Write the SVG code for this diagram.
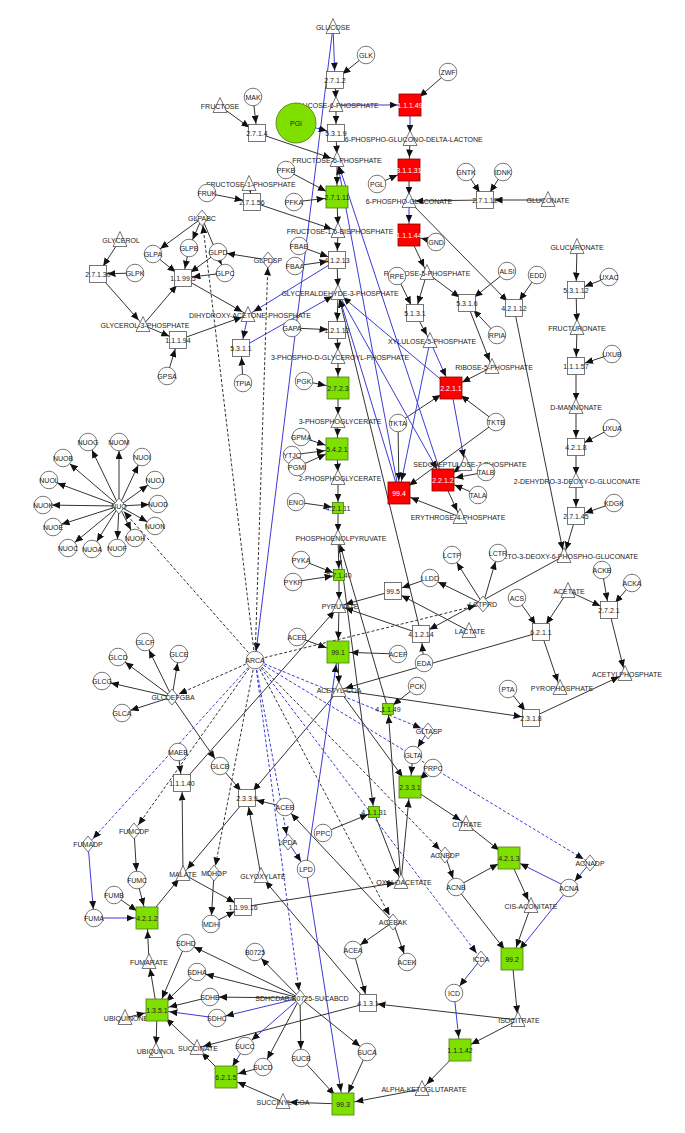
<svg xmlns="http://www.w3.org/2000/svg" width="685" height="1133" viewBox="0 0 685 1133">
<style>
text{font-family:"Liberation Sans",Arial,sans-serif;font-size:7px;fill:#222;text-anchor:middle}
.w{fill:#fff;stroke:#555;stroke-width:0.8}
.g{fill:#7fe000;stroke:#4a7d10;stroke-width:0.8}
.r{fill:#ff0000;stroke:#8a0000;stroke-width:0.8}
text.wt{fill:#fff}
#connectors line{stroke-width:1;fill:none}
.k{stroke:#333}
.b{stroke:#3b3bd6}
.kd{stroke:#333;stroke-dasharray:3 2}
.bd{stroke:#3b3bd6;stroke-dasharray:3 2}
</style>
<defs>
<path id="T" d="M0,-8.5 L7,6.5 L-7,6.5 Z"/>
<rect id="S" x="-8.5" y="-8.5" width="17" height="17"/>
<rect id="B" x="-11" y="-11" width="22" height="22"/>
<rect id="M" x="-5.5" y="-5.5" width="11" height="11"/>
<path id="D" d="M0,-8 L6.5,0 L0,8 L-6.5,0 Z"/>
<marker id="aC" markerUnits="userSpaceOnUse" markerWidth="8" markerHeight="7" refX="17" refY="3.5" orient="auto"><path d="M0,0 L8,3.5 L0,7 Z" fill="#111"/></marker>
<marker id="aS" markerUnits="userSpaceOnUse" markerWidth="8" markerHeight="7" refX="17.5" refY="3.5" orient="auto"><path d="M0,0 L8,3.5 L0,7 Z" fill="#111"/></marker>
<marker id="aB" markerUnits="userSpaceOnUse" markerWidth="8" markerHeight="7" refX="20.5" refY="3.5" orient="auto"><path d="M0,0 L8,3.5 L0,7 Z" fill="#111"/></marker>
<marker id="aM" markerUnits="userSpaceOnUse" markerWidth="8" markerHeight="7" refX="14.5" refY="3.5" orient="auto"><path d="M0,0 L8,3.5 L0,7 Z" fill="#111"/></marker>
<marker id="aT" markerUnits="userSpaceOnUse" markerWidth="8" markerHeight="7" refX="14.5" refY="3.5" orient="auto"><path d="M0,0 L8,3.5 L0,7 Z" fill="#111"/></marker>
<marker id="aD" markerUnits="userSpaceOnUse" markerWidth="8" markerHeight="7" refX="15.5" refY="3.5" orient="auto"><path d="M0,0 L8,3.5 L0,7 Z" fill="#111"/></marker>
</defs>
<rect width="685" height="1133" fill="#fff"/>
<g id="connectors">
<line class="b" x1="333" y1="27" x2="335" y2="80" marker-end="url(#aS)"/>
<line class="b" x1="333" y1="27" x2="255" y2="660" marker-end="url(#aC)"/>
<line class="k" x1="366" y1="55" x2="335" y2="80" marker-end="url(#aS)"/>
<line class="k" x1="335" y1="80" x2="336" y2="105" marker-end="url(#aT)"/>
<line class="k" x1="336" y1="105" x2="336" y2="133" marker-end="url(#aS)"/>
<line class="b" x1="296" y1="123" x2="336" y2="133" marker-end="url(#aS)"/>
<line class="k" x1="336" y1="133" x2="337" y2="160" marker-end="url(#aT)"/>
<line class="b" x1="336" y1="105" x2="410" y2="105" marker-end="url(#aB)"/>
<line class="k" x1="448" y1="72" x2="410" y2="105" marker-end="url(#aB)"/>
<line class="b" x1="410" y1="105" x2="410" y2="139" marker-end="url(#aT)"/>
<line class="k" x1="410" y1="139" x2="409" y2="170" marker-end="url(#aB)"/>
<line class="k" x1="377" y1="184" x2="409" y2="170" marker-end="url(#aB)"/>
<line class="k" x1="409" y1="170" x2="409" y2="201" marker-end="url(#aT)"/>
<line class="b" x1="409" y1="201" x2="409" y2="235" marker-end="url(#aB)"/>
<line class="k" x1="436" y1="242" x2="409" y2="235" marker-end="url(#aB)"/>
<line class="k" x1="409" y1="235" x2="427" y2="273" marker-end="url(#aT)"/>
<line class="k" x1="485" y1="200" x2="409" y2="201" marker-end="url(#aT)"/>
<line class="k" x1="548" y1="200" x2="485" y2="200" marker-end="url(#aS)"/>
<line class="k" x1="466" y1="172" x2="485" y2="200" marker-end="url(#aS)"/>
<line class="k" x1="503" y1="172" x2="485" y2="200" marker-end="url(#aS)"/>
<line class="k" x1="409" y1="201" x2="514" y2="308" marker-end="url(#aS)"/>
<line class="k" x1="537" y1="275" x2="514" y2="308" marker-end="url(#aS)"/>
<line class="k" x1="514" y1="308" x2="564" y2="556" marker-end="url(#aT)"/>
<line class="k" x1="253" y1="97" x2="257" y2="133" marker-end="url(#aS)"/>
<line class="k" x1="220" y1="106" x2="257" y2="133" marker-end="url(#aS)"/>
<line class="k" x1="257" y1="133" x2="337" y2="160" marker-end="url(#aT)"/>
<line class="k" x1="337" y1="160" x2="337" y2="197" marker-end="url(#aB)"/>
<line class="k" x1="286" y1="170" x2="337" y2="197" marker-end="url(#aB)"/>
<line class="k" x1="294" y1="202" x2="337" y2="197" marker-end="url(#aB)"/>
<line class="k" x1="337" y1="197" x2="338" y2="231" marker-end="url(#aT)"/>
<line class="k" x1="249" y1="184" x2="252" y2="202" marker-end="url(#aS)"/>
<line class="k" x1="207" y1="193" x2="252" y2="202" marker-end="url(#aS)"/>
<line class="k" x1="252" y1="202" x2="338" y2="231" marker-end="url(#aT)"/>
<line class="k" x1="338" y1="231" x2="337" y2="260" marker-end="url(#aS)"/>
<line class="k" x1="299" y1="246" x2="337" y2="260" marker-end="url(#aS)"/>
<line class="k" x1="295" y1="266" x2="337" y2="260" marker-end="url(#aS)"/>
<line class="k" x1="337" y1="260" x2="338" y2="293" marker-end="url(#aT)"/>
<line class="b" x1="337" y1="260" x2="248" y2="315" marker-end="url(#aT)"/>
<line class="b" x1="248" y1="315" x2="241" y2="348" marker-end="url(#aS)"/>
<line class="k" x1="243" y1="383" x2="241" y2="348" marker-end="url(#aS)"/>
<line class="b" x1="241" y1="348" x2="338" y2="293" marker-end="url(#aT)"/>
<line class="k" x1="338" y1="293" x2="337" y2="330" marker-end="url(#aS)"/>
<line class="k" x1="292" y1="328" x2="337" y2="330" marker-end="url(#aS)"/>
<line class="k" x1="337" y1="330" x2="338" y2="357" marker-end="url(#aT)"/>
<line class="k" x1="338" y1="357" x2="338" y2="388" marker-end="url(#aB)"/>
<line class="k" x1="304" y1="381" x2="338" y2="388" marker-end="url(#aB)"/>
<line class="k" x1="338" y1="388" x2="338" y2="421" marker-end="url(#aT)"/>
<line class="k" x1="338" y1="421" x2="337" y2="449" marker-end="url(#aB)"/>
<line class="k" x1="301" y1="437" x2="337" y2="449" marker-end="url(#aB)"/>
<line class="k" x1="292" y1="455" x2="337" y2="449" marker-end="url(#aB)"/>
<line class="k" x1="297" y1="467" x2="337" y2="449" marker-end="url(#aB)"/>
<line class="k" x1="337" y1="449" x2="338" y2="478" marker-end="url(#aT)"/>
<line class="k" x1="338" y1="478" x2="338" y2="508" marker-end="url(#aM)"/>
<line class="k" x1="296" y1="502" x2="338" y2="508" marker-end="url(#aM)"/>
<line class="k" x1="338" y1="508" x2="338" y2="538" marker-end="url(#aT)"/>
<line class="k" x1="338" y1="538" x2="339" y2="575" marker-end="url(#aM)"/>
<line class="k" x1="301" y1="560" x2="339" y2="575" marker-end="url(#aM)"/>
<line class="k" x1="293" y1="582" x2="339" y2="575" marker-end="url(#aM)"/>
<line class="k" x1="339" y1="575" x2="339" y2="606" marker-end="url(#aT)"/>
<line class="k" x1="339" y1="606" x2="338" y2="652" marker-end="url(#aB)"/>
<line class="k" x1="297" y1="637" x2="338" y2="652" marker-end="url(#aB)"/>
<line class="k" x1="398" y1="654" x2="338" y2="652" marker-end="url(#aB)"/>
<line class="k" x1="338" y1="652" x2="339" y2="690" marker-end="url(#aT)"/>
<line class="b" x1="306" y1="869" x2="338" y2="652" marker-end="url(#aB)"/>
<line class="b" x1="306" y1="869" x2="343" y2="1104" marker-end="url(#aB)"/>
<line class="k" x1="120" y1="240" x2="98" y2="274" marker-end="url(#aS)"/>
<line class="k" x1="135" y1="273" x2="98" y2="274" marker-end="url(#aS)"/>
<line class="k" x1="98" y1="274" x2="143" y2="325" marker-end="url(#aT)"/>
<line class="k" x1="143" y1="325" x2="183" y2="278" marker-end="url(#aS)"/>
<line class="k" x1="153" y1="254" x2="183" y2="278" marker-end="url(#aS)"/>
<line class="k" x1="189" y1="248" x2="183" y2="278" marker-end="url(#aS)"/>
<line class="k" x1="225" y1="273" x2="183" y2="278" marker-end="url(#aS)"/>
<line class="k" x1="218" y1="252" x2="183" y2="278" marker-end="url(#aS)"/>
<line class="k" x1="183" y1="278" x2="248" y2="315" marker-end="url(#aT)"/>
<line class="k" x1="143" y1="325" x2="178" y2="340" marker-end="url(#aS)"/>
<line class="k" x1="167" y1="376" x2="178" y2="340" marker-end="url(#aS)"/>
<line class="k" x1="178" y1="340" x2="248" y2="315" marker-end="url(#aT)"/>
<line class="k" x1="202" y1="218" x2="153" y2="254" marker-end="url(#aC)"/>
<line class="k" x1="202" y1="218" x2="189" y2="248" marker-end="url(#aC)"/>
<line class="k" x1="202" y1="218" x2="225" y2="273" marker-end="url(#aC)"/>
<line class="k" x1="268" y1="260" x2="218" y2="252" marker-end="url(#aC)"/>
<line class="k" x1="427" y1="273" x2="467" y2="303" marker-end="url(#aS)"/>
<line class="k" x1="507" y1="271" x2="467" y2="303" marker-end="url(#aS)"/>
<line class="k" x1="497" y1="335" x2="467" y2="303" marker-end="url(#aS)"/>
<line class="k" x1="467" y1="303" x2="492" y2="367" marker-end="url(#aT)"/>
<line class="k" x1="427" y1="273" x2="415" y2="313" marker-end="url(#aS)"/>
<line class="k" x1="397" y1="276" x2="415" y2="313" marker-end="url(#aS)"/>
<line class="k" x1="415" y1="313" x2="430" y2="341" marker-end="url(#aT)"/>
<line class="k" x1="492" y1="367" x2="451" y2="388" marker-end="url(#aB)"/>
<line class="b" x1="430" y1="341" x2="451" y2="388" marker-end="url(#aB)"/>
<line class="k" x1="398" y1="423" x2="451" y2="388" marker-end="url(#aB)"/>
<line class="k" x1="496" y1="422" x2="451" y2="388" marker-end="url(#aB)"/>
<line class="b" x1="451" y1="388" x2="338" y2="293" marker-end="url(#aT)"/>
<line class="b" x1="451" y1="388" x2="465" y2="464" marker-end="url(#aT)"/>
<line class="k" x1="465" y1="464" x2="443" y2="480" marker-end="url(#aB)"/>
<line class="k" x1="486" y1="472" x2="443" y2="480" marker-end="url(#aB)"/>
<line class="k" x1="478" y1="495" x2="443" y2="480" marker-end="url(#aB)"/>
<line class="b" x1="338" y1="293" x2="443" y2="480" marker-end="url(#aB)"/>
<line class="k" x1="443" y1="480" x2="460" y2="517" marker-end="url(#aT)"/>
<line class="b" x1="443" y1="480" x2="337" y2="160" marker-end="url(#aT)"/>
<line class="b" x1="430" y1="341" x2="399" y2="493" marker-end="url(#aB)"/>
<line class="k" x1="460" y1="517" x2="399" y2="493" marker-end="url(#aB)"/>
<line class="k" x1="398" y1="423" x2="399" y2="493" marker-end="url(#aB)"/>
<line class="k" x1="496" y1="422" x2="399" y2="493" marker-end="url(#aB)"/>
<line class="b" x1="399" y1="493" x2="338" y2="293" marker-end="url(#aT)"/>
<line class="b" x1="399" y1="493" x2="337" y2="160" marker-end="url(#aT)"/>
<line class="k" x1="577" y1="247" x2="576" y2="290" marker-end="url(#aS)"/>
<line class="k" x1="609" y1="277" x2="576" y2="290" marker-end="url(#aS)"/>
<line class="k" x1="576" y1="290" x2="577" y2="328" marker-end="url(#aT)"/>
<line class="k" x1="577" y1="328" x2="576" y2="366" marker-end="url(#aS)"/>
<line class="k" x1="612" y1="354" x2="576" y2="366" marker-end="url(#aS)"/>
<line class="k" x1="576" y1="366" x2="576" y2="407" marker-end="url(#aT)"/>
<line class="k" x1="576" y1="407" x2="576" y2="447" marker-end="url(#aS)"/>
<line class="k" x1="612" y1="428" x2="576" y2="447" marker-end="url(#aS)"/>
<line class="k" x1="576" y1="447" x2="576" y2="481" marker-end="url(#aT)"/>
<line class="k" x1="576" y1="481" x2="576" y2="516" marker-end="url(#aS)"/>
<line class="k" x1="614" y1="503" x2="576" y2="516" marker-end="url(#aS)"/>
<line class="k" x1="576" y1="516" x2="564" y2="556" marker-end="url(#aT)"/>
<line class="k" x1="564" y1="556" x2="421" y2="634" marker-end="url(#aS)"/>
<line class="k" x1="424" y1="663" x2="421" y2="634" marker-end="url(#aS)"/>
<line class="k" x1="421" y1="634" x2="338" y2="293" marker-end="url(#aT)"/>
<line class="k" x1="421" y1="634" x2="339" y2="606" marker-end="url(#aT)"/>
<line class="k" x1="483" y1="604" x2="452" y2="555" marker-end="url(#aC)"/>
<line class="k" x1="483" y1="604" x2="498" y2="553" marker-end="url(#aC)"/>
<line class="k" x1="483" y1="604" x2="430" y2="578" marker-end="url(#aC)"/>
<line class="k" x1="430" y1="578" x2="393" y2="591" marker-end="url(#aS)"/>
<line class="k" x1="469" y1="631" x2="393" y2="591" marker-end="url(#aS)"/>
<line class="k" x1="393" y1="591" x2="339" y2="606" marker-end="url(#aT)"/>
<line class="k" x1="568" y1="591" x2="541" y2="632" marker-end="url(#aS)"/>
<line class="k" x1="517" y1="598" x2="541" y2="632" marker-end="url(#aS)"/>
<line class="k" x1="541" y1="632" x2="560" y2="688" marker-end="url(#aT)"/>
<line class="k" x1="541" y1="632" x2="339" y2="690" marker-end="url(#aT)"/>
<line class="k" x1="568" y1="591" x2="609" y2="610" marker-end="url(#aS)"/>
<line class="k" x1="602" y1="570" x2="609" y2="610" marker-end="url(#aS)"/>
<line class="k" x1="632" y1="583" x2="609" y2="610" marker-end="url(#aS)"/>
<line class="k" x1="609" y1="610" x2="625" y2="674" marker-end="url(#aT)"/>
<line class="k" x1="339" y1="690" x2="531" y2="718" marker-end="url(#aS)"/>
<line class="k" x1="508" y1="689" x2="531" y2="718" marker-end="url(#aS)"/>
<line class="k" x1="531" y1="718" x2="625" y2="674" marker-end="url(#aT)"/>
<line class="k" x1="338" y1="538" x2="374" y2="812" marker-end="url(#aM)"/>
<line class="k" x1="323" y1="833" x2="374" y2="812" marker-end="url(#aM)"/>
<line class="k" x1="374" y1="812" x2="401" y2="882" marker-end="url(#aT)"/>
<line class="k" x1="401" y1="882" x2="388" y2="709" marker-end="url(#aM)"/>
<line class="k" x1="417" y1="686" x2="388" y2="709" marker-end="url(#aM)"/>
<line class="k" x1="388" y1="709" x2="338" y2="538" marker-end="url(#aT)"/>
<line class="k" x1="183" y1="874" x2="182" y2="783" marker-end="url(#aS)"/>
<line class="k" x1="178" y1="752" x2="182" y2="783" marker-end="url(#aS)"/>
<line class="k" x1="182" y1="783" x2="339" y2="606" marker-end="url(#aT)"/>
<line class="k" x1="339" y1="690" x2="410" y2="787" marker-end="url(#aB)"/>
<line class="k" x1="401" y1="882" x2="410" y2="787" marker-end="url(#aB)"/>
<line class="k" x1="413" y1="755" x2="410" y2="787" marker-end="url(#aB)"/>
<line class="k" x1="433" y1="768" x2="410" y2="787" marker-end="url(#aB)"/>
<line class="k" x1="410" y1="787" x2="466" y2="824" marker-end="url(#aT)"/>
<line class="b" x1="428" y1="731" x2="413" y2="755" marker-end="url(#aC)"/>
<line class="k" x1="466" y1="824" x2="509" y2="858" marker-end="url(#aB)"/>
<line class="k" x1="456" y1="887" x2="509" y2="858" marker-end="url(#aB)"/>
<line class="b" x1="569" y1="888" x2="509" y2="858" marker-end="url(#aB)"/>
<line class="k" x1="509" y1="858" x2="531" y2="906" marker-end="url(#aT)"/>
<line class="k" x1="531" y1="906" x2="512" y2="959" marker-end="url(#aB)"/>
<line class="k" x1="456" y1="887" x2="512" y2="959" marker-end="url(#aB)"/>
<line class="b" x1="569" y1="888" x2="512" y2="959" marker-end="url(#aB)"/>
<line class="k" x1="512" y1="959" x2="518" y2="1020" marker-end="url(#aT)"/>
<line class="b" x1="590" y1="863" x2="569" y2="888" marker-end="url(#aC)"/>
<line class="k" x1="445" y1="855" x2="456" y2="887" marker-end="url(#aC)"/>
<line class="k" x1="518" y1="1020" x2="460" y2="1050" marker-end="url(#aB)"/>
<line class="b" x1="454" y1="993" x2="460" y2="1050" marker-end="url(#aB)"/>
<line class="b" x1="481" y1="959" x2="454" y2="993" marker-end="url(#aC)"/>
<line class="k" x1="460" y1="1050" x2="422" y2="1089" marker-end="url(#aT)"/>
<line class="k" x1="422" y1="1089" x2="343" y2="1104" marker-end="url(#aB)"/>
<line class="k" x1="301" y1="1058" x2="343" y2="1104" marker-end="url(#aB)"/>
<line class="k" x1="367" y1="1052" x2="343" y2="1104" marker-end="url(#aB)"/>
<line class="k" x1="343" y1="1104" x2="283" y2="1102" marker-end="url(#aT)"/>
<line class="k" x1="283" y1="1102" x2="226" y2="1077" marker-end="url(#aB)"/>
<line class="b" x1="245" y1="1046" x2="226" y2="1077" marker-end="url(#aB)"/>
<line class="k" x1="263" y1="1067" x2="226" y2="1077" marker-end="url(#aB)"/>
<line class="k" x1="226" y1="1077" x2="197" y2="1048" marker-end="url(#aT)"/>
<line class="k" x1="197" y1="1048" x2="157" y2="1010" marker-end="url(#aB)"/>
<line class="k" x1="186" y1="943" x2="157" y2="1010" marker-end="url(#aB)"/>
<line class="k" x1="197" y1="972" x2="157" y2="1010" marker-end="url(#aB)"/>
<line class="k" x1="210" y1="997" x2="157" y2="1010" marker-end="url(#aB)"/>
<line class="b" x1="217" y1="1018" x2="157" y2="1010" marker-end="url(#aB)"/>
<line class="k" x1="125" y1="1018" x2="157" y2="1010" marker-end="url(#aB)"/>
<line class="k" x1="157" y1="1010" x2="156" y2="1051" marker-end="url(#aT)"/>
<line class="k" x1="157" y1="1010" x2="149" y2="962" marker-end="url(#aT)"/>
<line class="k" x1="149" y1="962" x2="147" y2="918" marker-end="url(#aB)"/>
<line class="k" x1="137" y1="880" x2="147" y2="918" marker-end="url(#aB)"/>
<line class="k" x1="114" y1="895" x2="147" y2="918" marker-end="url(#aB)"/>
<line class="b" x1="94" y1="918" x2="147" y2="918" marker-end="url(#aB)"/>
<line class="b" x1="88" y1="844" x2="94" y2="918" marker-end="url(#aC)"/>
<line class="k" x1="134" y1="831" x2="137" y2="880" marker-end="url(#aC)"/>
<line class="k" x1="147" y1="918" x2="183" y2="874" marker-end="url(#aT)"/>
<line class="k" x1="183" y1="874" x2="243" y2="907" marker-end="url(#aS)"/>
<line class="k" x1="211" y1="924" x2="243" y2="907" marker-end="url(#aS)"/>
<line class="k" x1="214" y1="873" x2="211" y2="924" marker-end="url(#aC)"/>
<line class="k" x1="243" y1="907" x2="401" y2="882" marker-end="url(#aT)"/>
<line class="k" x1="518" y1="1020" x2="368" y2="1003" marker-end="url(#aS)"/>
<line class="k" x1="353" y1="950" x2="368" y2="1003" marker-end="url(#aS)"/>
<line class="k" x1="368" y1="1003" x2="261" y2="876" marker-end="url(#aT)"/>
<line class="k" x1="368" y1="1003" x2="197" y2="1048" marker-end="url(#aT)"/>
<line class="k" x1="261" y1="876" x2="247" y2="798" marker-end="url(#aS)"/>
<line class="k" x1="339" y1="690" x2="247" y2="798" marker-end="url(#aS)"/>
<line class="k" x1="220" y1="766" x2="247" y2="798" marker-end="url(#aS)"/>
<line class="k" x1="285" y1="807" x2="247" y2="798" marker-end="url(#aS)"/>
<line class="k" x1="247" y1="798" x2="183" y2="874" marker-end="url(#aT)"/>
<line class="k" x1="393" y1="922" x2="353" y2="950" marker-end="url(#aC)"/>
<line class="k" x1="393" y1="922" x2="407" y2="962" marker-end="url(#aC)"/>
<line class="k" x1="393" y1="922" x2="285" y2="807" marker-end="url(#aC)"/>
<line class="k" x1="172" y1="697" x2="145" y2="642" marker-end="url(#aC)"/>
<line class="k" x1="172" y1="697" x2="118" y2="657" marker-end="url(#aC)"/>
<line class="k" x1="172" y1="697" x2="179" y2="654" marker-end="url(#aC)"/>
<line class="k" x1="172" y1="697" x2="102" y2="681" marker-end="url(#aC)"/>
<line class="k" x1="172" y1="697" x2="122" y2="713" marker-end="url(#aC)"/>
<line class="k" x1="172" y1="697" x2="220" y2="766" marker-end="url(#aC)"/>
<line class="k" x1="300" y1="998" x2="186" y2="943" marker-end="url(#aC)"/>
<line class="k" x1="300" y1="998" x2="197" y2="972" marker-end="url(#aC)"/>
<line class="k" x1="300" y1="998" x2="210" y2="997" marker-end="url(#aC)"/>
<line class="b" x1="300" y1="998" x2="217" y2="1018" marker-end="url(#aC)"/>
<line class="b" x1="300" y1="998" x2="245" y2="1046" marker-end="url(#aC)"/>
<line class="k" x1="300" y1="998" x2="263" y2="1067" marker-end="url(#aC)"/>
<line class="k" x1="300" y1="998" x2="301" y2="1058" marker-end="url(#aC)"/>
<line class="k" x1="300" y1="998" x2="367" y2="1052" marker-end="url(#aC)"/>
<line class="k" x1="300" y1="998" x2="255" y2="952" marker-end="url(#aC)"/>
<line class="k" x1="119" y1="506" x2="88" y2="442" marker-end="url(#aC)"/>
<line class="k" x1="119" y1="506" x2="119" y2="442" marker-end="url(#aC)"/>
<line class="k" x1="119" y1="506" x2="63" y2="458" marker-end="url(#aC)"/>
<line class="k" x1="119" y1="506" x2="142" y2="457" marker-end="url(#aC)"/>
<line class="k" x1="119" y1="506" x2="49" y2="480" marker-end="url(#aC)"/>
<line class="k" x1="119" y1="506" x2="155" y2="480" marker-end="url(#aC)"/>
<line class="k" x1="119" y1="506" x2="43" y2="505" marker-end="url(#aC)"/>
<line class="k" x1="119" y1="506" x2="158" y2="504" marker-end="url(#aC)"/>
<line class="k" x1="119" y1="506" x2="53" y2="527" marker-end="url(#aC)"/>
<line class="k" x1="119" y1="506" x2="155" y2="526" marker-end="url(#aC)"/>
<line class="k" x1="119" y1="506" x2="68" y2="548" marker-end="url(#aC)"/>
<line class="k" x1="119" y1="506" x2="92" y2="549" marker-end="url(#aC)"/>
<line class="k" x1="119" y1="506" x2="117" y2="548" marker-end="url(#aC)"/>
<line class="k" x1="119" y1="506" x2="135" y2="538" marker-end="url(#aC)"/>
<line class="b" x1="288" y1="842" x2="306" y2="869" marker-end="url(#aC)"/>
<line class="kd" x1="255" y1="660" x2="119" y2="506" marker-end="url(#aD)"/>
<line class="kd" x1="255" y1="660" x2="202" y2="218" marker-end="url(#aD)"/>
<line class="kd" x1="255" y1="660" x2="268" y2="260" marker-end="url(#aD)"/>
<line class="kd" x1="255" y1="660" x2="172" y2="697" marker-end="url(#aD)"/>
<line class="kd" x1="255" y1="660" x2="483" y2="604" marker-end="url(#aD)"/>
<line class="bd" x1="255" y1="660" x2="88" y2="844" marker-end="url(#aD)"/>
<line class="kd" x1="255" y1="660" x2="134" y2="831" marker-end="url(#aD)"/>
<line class="kd" x1="255" y1="660" x2="214" y2="873" marker-end="url(#aD)"/>
<line class="bd" x1="255" y1="660" x2="300" y2="998" marker-end="url(#aD)"/>
<line class="bd" x1="255" y1="660" x2="288" y2="842" marker-end="url(#aD)"/>
<line class="kd" x1="255" y1="660" x2="393" y2="922" marker-end="url(#aD)"/>
<line class="kd" x1="255" y1="660" x2="445" y2="855" marker-end="url(#aD)"/>
<line class="bd" x1="255" y1="660" x2="481" y2="959" marker-end="url(#aD)"/>
<line class="bd" x1="255" y1="660" x2="428" y2="731" marker-end="url(#aD)"/>
<line class="bd" x1="255" y1="660" x2="590" y2="863" marker-end="url(#aD)"/>
</g>
<g id="nodes">
<g id="m-GLUCOSE"><use href="#T" class="w" x="333" y="27"/><text x="333" y="29.5">GLUCOSE</text></g>
<g id="m-G6P"><use href="#T" class="w" x="336" y="105"/><text x="336" y="107.5">GLUCOSE-6-PHOSPHATE</text></g>
<g id="m-FRUCTOSE"><use href="#T" class="w" x="220" y="106"/><text x="220" y="108.5">FRUCTOSE</text></g>
<g id="m-DLACT"><use href="#T" class="w" x="410" y="139"/><text x="410" y="141.5">D-6-PHOSPHO-GLUCONO-DELTA-LACTONE</text></g>
<g id="m-F6P"><use href="#T" class="w" x="337" y="160"/><text x="337" y="162.5">FRUCTOSE-6-PHOSPHATE</text></g>
<g id="m-F1P"><use href="#T" class="w" x="249" y="184"/><text x="251" y="186.5">FRUCTOSE-1-PHOSPHATE</text></g>
<g id="m-6PG"><use href="#T" class="w" x="409" y="201"/><text x="409" y="203.5">6-PHOSPHO-GLUCONATE</text></g>
<g id="m-GLUCONATE"><use href="#T" class="w" x="548" y="200"/><text x="548" y="202.5">GLUCONATE</text></g>
<g id="m-FBP"><use href="#T" class="w" x="338" y="231"/><text x="340" y="233.5">FRUCTOSE-1,6-BISPHOSPHATE</text></g>
<g id="m-GLYCEROL"><use href="#T" class="w" x="120" y="240"/><text x="121" y="242.5">GLYCEROL</text></g>
<g id="m-GLUCURONATE"><use href="#T" class="w" x="577" y="247"/><text x="577" y="249.5">GLUCURONATE</text></g>
<g id="m-RU5P"><use href="#T" class="w" x="427" y="273"/><text x="427" y="275.5">RIBULOSE-5-PHOSPHATE</text></g>
<g id="m-G3P"><use href="#T" class="w" x="338" y="293"/><text x="340" y="295.5">GLYCERALDEHYDE-3-PHOSPHATE</text></g>
<g id="m-DHAP"><use href="#T" class="w" x="248" y="315"/><text x="250" y="317.5">DIHYDROXY-ACETONE-PHOSPHATE</text></g>
<g id="m-GL3P"><use href="#T" class="w" x="143" y="325"/><text x="145" y="327.5">GLYCEROL-3-PHOSPHATE</text></g>
<g id="m-FRUCTURONATE"><use href="#T" class="w" x="577" y="328"/><text x="577" y="330.5">FRUCTURONATE</text></g>
<g id="m-X5P"><use href="#T" class="w" x="430" y="341"/><text x="432" y="343.5">XYLULOSE-5-PHOSPHATE</text></g>
<g id="m-BPG"><use href="#T" class="w" x="338" y="357"/><text x="340" y="359.5">3-PHOSPHO-D-GLYCEROYL-PHOSPHATE</text></g>
<g id="m-R5P"><use href="#T" class="w" x="492" y="367"/><text x="494" y="369.5">RIBOSE-5-PHOSPHATE</text></g>
<g id="m-MANNONATE"><use href="#T" class="w" x="576" y="407"/><text x="576" y="409.5">D-MANNONATE</text></g>
<g id="m-3PG"><use href="#T" class="w" x="338" y="421"/><text x="340" y="423.5">3-PHOSPHOGLYCERATE</text></g>
<g id="m-S7P"><use href="#T" class="w" x="465" y="464"/><text x="470" y="466.5">SEDOHEPTULOSE-7-PHOSPHATE</text></g>
<g id="m-2PG"><use href="#T" class="w" x="338" y="478"/><text x="340" y="480.5">2-PHOSPHOGLYCERATE</text></g>
<g id="m-DDG"><use href="#T" class="w" x="576" y="481"/><text x="577" y="483.5">2-DEHYDRO-3-DEOXY-D-GLUCONATE</text></g>
<g id="m-E4P"><use href="#T" class="w" x="460" y="517"/><text x="458" y="519.5">ERYTHROSE-4-PHOSPHATE</text></g>
<g id="m-PEP"><use href="#T" class="w" x="338" y="538"/><text x="341" y="540.5">PHOSPHOENOLPYRUVATE</text></g>
<g id="m-KDPG"><use href="#T" class="w" x="564" y="556"/><text x="565" y="558.5">2-KETO-3-DEOXY-6-PHOSPHO-GLUCONATE</text></g>
<g id="m-ACETATE"><use href="#T" class="w" x="568" y="591"/><text x="569" y="593.5">ACETATE</text></g>
<g id="m-PYRUVATE"><use href="#T" class="w" x="339" y="606"/><text x="340" y="608.5">PYRUVATE</text></g>
<g id="m-LACTATE"><use href="#T" class="w" x="469" y="631"/><text x="470" y="633.5">LACTATE</text></g>
<g id="m-ACETYLPHOSPHATE"><use href="#T" class="w" x="625" y="674"/><text x="627" y="676.5">ACETYLPHOSPHATE</text></g>
<g id="m-PYROPHOSPHATE"><use href="#T" class="w" x="560" y="688"/><text x="562" y="690.5">PYROPHOSPHATE</text></g>
<g id="m-ACCOA"><use href="#T" class="w" x="339" y="690"/><text x="339" y="692.5">ACETYL-COA</text></g>
<g id="m-CITRATE"><use href="#T" class="w" x="466" y="824"/><text x="467" y="826.5">CITRATE</text></g>
<g id="m-GLYOXYLATE"><use href="#T" class="w" x="261" y="876"/><text x="263" y="878.5">GLYOXYLATE</text></g>
<g id="m-MALATE"><use href="#T" class="w" x="183" y="874"/><text x="183" y="876.5">MALATE</text></g>
<g id="m-OAA"><use href="#T" class="w" x="401" y="882"/><text x="404" y="884.5">OXALOACETATE</text></g>
<g id="m-CISACON"><use href="#T" class="w" x="531" y="906"/><text x="531" y="908.5">CIS-ACONITATE</text></g>
<g id="m-FUMARATE"><use href="#T" class="w" x="149" y="962"/><text x="149" y="964.5">FUMARATE</text></g>
<g id="m-UBIQUINONE"><use href="#T" class="w" x="125" y="1018"/><text x="126" y="1020.5">UBIQUINONE</text></g>
<g id="m-ISOCITRATE"><use href="#T" class="w" x="518" y="1020"/><text x="519" y="1022.5">ISOCITRATE</text></g>
<g id="m-SUCCINATE"><use href="#T" class="w" x="197" y="1048"/><text x="198" y="1050.5">SUCCINATE</text></g>
<g id="m-UBIQUINOL"><use href="#T" class="w" x="156" y="1051"/><text x="156" y="1053.5">UBIQUINOL</text></g>
<g id="m-AKG"><use href="#T" class="w" x="422" y="1089"/><text x="424" y="1091.5">ALPHA-KETOGLUTARATE</text></g>
<g id="m-SUCCOA"><use href="#T" class="w" x="283" y="1102"/><text x="283" y="1104.5">SUCCINYL-COA</text></g>

<g id="r-2.7.1.2"><use href="#S" class="w" x="335" y="80"/><text x="335" y="82.5">2.7.1.2</text></g>
<g id="r-2.7.1.4"><use href="#S" class="w" x="257" y="133"/><text x="257" y="135.5">2.7.1.4</text></g>
<g id="r-5.3.1.9"><use href="#S" class="w" x="336" y="133"/><text x="336" y="135.5">5.3.1.9</text></g>
<g id="r-2.7.1.56"><use href="#S" class="w" x="252" y="202"/><text x="252" y="204.5">2.7.1.56</text></g>
<g id="r-2.7.1.12"><use href="#S" class="w" x="485" y="200"/><text x="485" y="202.5">2.7.1.12</text></g>
<g id="r-4.1.2.13"><use href="#S" class="w" x="337" y="260"/><text x="337" y="262.5">4.1.2.13</text></g>
<g id="r-2.7.1.30"><use href="#S" class="w" x="98" y="274"/><text x="98" y="276.5">2.7.1.30</text></g>
<g id="r-1.1.99.5"><use href="#S" class="w" x="183" y="278"/><text x="183" y="280.5">1.1.99.5</text></g>
<g id="r-5.3.1.12"><use href="#S" class="w" x="576" y="290"/><text x="576" y="292.5">5.3.1.12</text></g>
<g id="r-5.3.1.6"><use href="#S" class="w" x="467" y="303"/><text x="467" y="305.5">5.3.1.6</text></g>
<g id="r-4.2.1.12"><use href="#S" class="w" x="514" y="308"/><text x="514" y="310.5">4.2.1.12</text></g>
<g id="r-5.1.3.1"><use href="#S" class="w" x="415" y="313"/><text x="415" y="315.5">5.1.3.1</text></g>
<g id="r-1.2.1.12"><use href="#S" class="w" x="337" y="330"/><text x="337" y="332.5">1.2.1.12</text></g>
<g id="r-1.1.1.94"><use href="#S" class="w" x="178" y="340"/><text x="178" y="342.5">1.1.1.94</text></g>
<g id="r-5.3.1.1"><use href="#S" class="w" x="241" y="348"/><text x="241" y="350.5">5.3.1.1</text></g>
<g id="r-1.1.1.57"><use href="#S" class="w" x="576" y="366"/><text x="576" y="368.5">1.1.1.57</text></g>
<g id="r-4.2.1.8"><use href="#S" class="w" x="576" y="447"/><text x="576" y="449.5">4.2.1.8</text></g>
<g id="r-2.7.1.45"><use href="#S" class="w" x="576" y="516"/><text x="576" y="518.5">2.7.1.45</text></g>
<g id="r-99.5"><use href="#S" class="w" x="393" y="591"/><text x="393" y="593.5">99.5</text></g>
<g id="r-2.7.2.1"><use href="#S" class="w" x="609" y="610"/><text x="609" y="612.5">2.7.2.1</text></g>
<g id="r-6.2.1.1"><use href="#S" class="w" x="541" y="632"/><text x="541" y="634.5">6.2.1.1</text></g>
<g id="r-4.1.2.14"><use href="#S" class="w" x="421" y="634"/><text x="421" y="636.5">4.1.2.14</text></g>
<g id="r-2.3.1.8"><use href="#S" class="w" x="531" y="718"/><text x="531" y="720.5">2.3.1.8</text></g>
<g id="r-1.1.1.40"><use href="#S" class="w" x="182" y="783"/><text x="182" y="785.5">1.1.1.40</text></g>
<g id="r-2.3.3.9"><use href="#S" class="w" x="247" y="798"/><text x="247" y="800.5">2.3.3.9</text></g>
<g id="r-1.1.99.16"><use href="#S" class="w" x="243" y="907"/><text x="243" y="909.5">1.1.99.16</text></g>
<g id="r-4.1.3.1"><use href="#S" class="w" x="368" y="1003"/><text x="368" y="1005.5">4.1.3.1</text></g>

<g id="r-1.1.1.49"><use href="#B" class="r" x="410" y="105"/><text class="wt" x="410" y="107.5">1.1.1.49</text></g>
<g id="r-3.1.1.31"><use href="#B" class="r" x="409" y="170"/><text class="wt" x="409" y="172.5">3.1.1.31</text></g>
<g id="r-1.1.1.44"><use href="#B" class="r" x="409" y="235"/><text class="wt" x="409" y="237.5">1.1.1.44</text></g>
<g id="r-2.2.1.1"><use href="#B" class="r" x="451" y="388"/><text class="wt" x="451" y="390.5">2.2.1.1</text></g>
<g id="r-2.2.1.2"><use href="#B" class="r" x="443" y="480"/><text class="wt" x="443" y="482.5">2.2.1.2</text></g>
<g id="r-99.4"><use href="#B" class="r" x="399" y="493"/><text class="wt" x="399" y="495.5">99.4</text></g>

<g id="r-2.7.1.11"><use href="#B" class="g" x="337" y="197"/><text x="337" y="199.5">2.7.1.11</text></g>
<g id="r-2.7.2.3"><use href="#B" class="g" x="338" y="388"/><text x="338" y="390.5">2.7.2.3</text></g>
<g id="r-5.4.2.1"><use href="#B" class="g" x="337" y="449"/><text x="337" y="451.5">5.4.2.1</text></g>
<g id="r-99.1"><use href="#B" class="g" x="338" y="652"/><text x="338" y="654.5">99.1</text></g>
<g id="r-2.3.3.1"><use href="#B" class="g" x="410" y="787"/><text x="410" y="789.5">2.3.3.1</text></g>
<g id="r-4.2.1.3"><use href="#B" class="g" x="509" y="858"/><text x="509" y="860.5">4.2.1.3</text></g>
<g id="r-4.2.1.2"><use href="#B" class="g" x="147" y="918"/><text x="147" y="920.5">4.2.1.2</text></g>
<g id="r-99.2"><use href="#B" class="g" x="512" y="959"/><text x="512" y="961.5">99.2</text></g>
<g id="r-1.3.5.1"><use href="#B" class="g" x="157" y="1010"/><text x="157" y="1012.5">1.3.5.1</text></g>
<g id="r-1.1.1.42"><use href="#B" class="g" x="460" y="1050"/><text x="460" y="1052.5">1.1.1.42</text></g>
<g id="r-6.2.1.5"><use href="#B" class="g" x="226" y="1077"/><text x="226" y="1079.5">6.2.1.5</text></g>
<g id="r-99.3"><use href="#B" class="g" x="343" y="1104"/><text x="343" y="1106.5">99.3</text></g>
<g id="r-4.2.1.11"><use href="#M" class="g" x="338" y="508"/><text x="338" y="510.5">4.2.1.11</text></g>
<g id="r-2.7.1.40"><use href="#M" class="g" x="339" y="575"/><text x="339" y="577.5">2.7.1.40</text></g>
<g id="r-4.1.1.49"><use href="#M" class="g" x="388" y="709"/><text x="388" y="711.5">4.1.1.49</text></g>
<g id="r-4.1.1.31"><use href="#M" class="g" x="374" y="812"/><text x="374" y="814.5">4.1.1.31</text></g>

<g id="g-PGI"><circle class="g" cx="296" cy="123" r="20"/><text x="296" y="125.5">PGI</text></g>
<g id="g-GLK"><circle class="w" cx="366" cy="55" r="8.8"/><text x="366" y="57.5">GLK</text></g>
<g id="g-ZWF"><circle class="w" cx="448" cy="72" r="8.8"/><text x="448" y="74.5">ZWF</text></g>
<g id="g-MAK"><circle class="w" cx="253" cy="97" r="8.8"/><text x="253" y="99.5">MAK</text></g>
<g id="g-PFKB"><circle class="w" cx="286" cy="170" r="8.8"/><text x="286" y="172.5">PFKB</text></g>
<g id="g-PGL"><circle class="w" cx="377" cy="184" r="8.8"/><text x="377" y="186.5">PGL</text></g>
<g id="g-GNTK"><circle class="w" cx="466" cy="172" r="8.8"/><text x="466" y="174.5">GNTK</text></g>
<g id="g-IDNK"><circle class="w" cx="503" cy="172" r="8.8"/><text x="503" y="174.5">IDNK</text></g>
<g id="g-FRUK"><circle class="w" cx="207" cy="193" r="8.8"/><text x="207" y="195.5">FRUK</text></g>
<g id="g-PFKA"><circle class="w" cx="294" cy="202" r="8.8"/><text x="294" y="204.5">PFKA</text></g>
<g id="g-GND"><circle class="w" cx="436" cy="242" r="8.8"/><text x="436" y="244.5">GND</text></g>
<g id="g-FBAB"><circle class="w" cx="299" cy="246" r="8.8"/><text x="299" y="248.5">FBAB</text></g>
<g id="g-FBAA"><circle class="w" cx="295" cy="266" r="8.8"/><text x="295" y="268.5">FBAA</text></g>
<g id="g-GLPD"><circle class="w" cx="218" cy="252" r="8.8"/><text x="218" y="254.5">GLPD</text></g>
<g id="g-GLPC"><circle class="w" cx="225" cy="273" r="8.8"/><text x="225" y="275.5">GLPC</text></g>
<g id="g-GLPA"><circle class="w" cx="153" cy="254" r="8.8"/><text x="153" y="256.5">GLPA</text></g>
<g id="g-GLPB"><circle class="w" cx="189" cy="248" r="8.8"/><text x="189" y="250.5">GLPB</text></g>
<g id="g-GLPK"><circle class="w" cx="135" cy="273" r="8.8"/><text x="135" y="275.5">GLPK</text></g>
<g id="g-RPE"><circle class="w" cx="397" cy="276" r="8.8"/><text x="397" y="278.5">RPE</text></g>
<g id="g-ALSI"><circle class="w" cx="507" cy="271" r="8.8"/><text x="507" y="273.5">ALSI</text></g>
<g id="g-EDD"><circle class="w" cx="537" cy="275" r="8.8"/><text x="537" y="277.5">EDD</text></g>
<g id="g-UXAC"><circle class="w" cx="609" cy="277" r="8.8"/><text x="609" y="279.5">UXAC</text></g>
<g id="g-GAPA"><circle class="w" cx="292" cy="328" r="8.8"/><text x="292" y="330.5">GAPA</text></g>
<g id="g-RPIA"><circle class="w" cx="497" cy="335" r="8.8"/><text x="497" y="337.5">RPIA</text></g>
<g id="g-UXUB"><circle class="w" cx="612" cy="354" r="8.8"/><text x="612" y="356.5">UXUB</text></g>
<g id="g-GPSA"><circle class="w" cx="167" cy="376" r="8.8"/><text x="167" y="378.5">GPSA</text></g>
<g id="g-TPIA"><circle class="w" cx="243" cy="383" r="8.8"/><text x="243" y="385.5">TPIA</text></g>
<g id="g-PGK"><circle class="w" cx="304" cy="381" r="8.8"/><text x="304" y="383.5">PGK</text></g>
<g id="g-TKTA"><circle class="w" cx="398" cy="423" r="8.8"/><text x="398" y="425.5">TKTA</text></g>
<g id="g-TKTB"><circle class="w" cx="496" cy="422" r="8.8"/><text x="496" y="424.5">TKTB</text></g>
<g id="g-UXUA"><circle class="w" cx="612" cy="428" r="8.8"/><text x="612" y="430.5">UXUA</text></g>
<g id="g-GPMA"><circle class="w" cx="301" cy="437" r="8.8"/><text x="301" y="439.5">GPMA</text></g>
<g id="g-YTJC"><circle class="w" cx="292" cy="455" r="8.8"/><text x="292" y="457.5">YTJC</text></g>
<g id="g-PGMI"><circle class="w" cx="297" cy="467" r="8.8"/><text x="297" y="469.5">PGMI</text></g>
<g id="g-TALB"><circle class="w" cx="486" cy="472" r="8.8"/><text x="486" y="474.5">TALB</text></g>
<g id="g-TALA"><circle class="w" cx="478" cy="495" r="8.8"/><text x="478" y="497.5">TALA</text></g>
<g id="g-KDGK"><circle class="w" cx="614" cy="503" r="8.8"/><text x="614" y="505.5">KDGK</text></g>
<g id="g-ENO"><circle class="w" cx="296" cy="502" r="8.8"/><text x="296" y="504.5">ENO</text></g>
<g id="g-NUOG"><circle class="w" cx="88" cy="442" r="8.8"/><text x="88" y="444.5">NUOG</text></g>
<g id="g-NUOM"><circle class="w" cx="119" cy="442" r="8.8"/><text x="119" y="444.5">NUOM</text></g>
<g id="g-NUOB"><circle class="w" cx="63" cy="458" r="8.8"/><text x="63" y="460.5">NUOB</text></g>
<g id="g-NUOI"><circle class="w" cx="142" cy="457" r="8.8"/><text x="142" y="459.5">NUOI</text></g>
<g id="g-NUOL"><circle class="w" cx="49" cy="480" r="8.8"/><text x="49" y="482.5">NUOL</text></g>
<g id="g-NUOJ"><circle class="w" cx="155" cy="480" r="8.8"/><text x="155" y="482.5">NUOJ</text></g>
<g id="g-NUOK"><circle class="w" cx="43" cy="505" r="8.8"/><text x="43" y="507.5">NUOK</text></g>
<g id="g-NUOD"><circle class="w" cx="158" cy="504" r="8.8"/><text x="158" y="506.5">NUOD</text></g>
<g id="g-NUOE"><circle class="w" cx="53" cy="527" r="8.8"/><text x="53" y="529.5">NUOE</text></g>
<g id="g-NUON"><circle class="w" cx="155" cy="526" r="8.8"/><text x="155" y="528.5">NUON</text></g>
<g id="g-NUOC"><circle class="w" cx="68" cy="548" r="8.8"/><text x="68" y="550.5">NUOC</text></g>
<g id="g-NUOA"><circle class="w" cx="92" cy="549" r="8.8"/><text x="92" y="551.5">NUOA</text></g>
<g id="g-NUOF"><circle class="w" cx="117" cy="548" r="8.8"/><text x="117" y="550.5">NUOF</text></g>
<g id="g-NUOH"><circle class="w" cx="135" cy="538" r="8.8"/><text x="135" y="540.5">NUOH</text></g>
<g id="g-LCTP"><circle class="w" cx="452" cy="555" r="8.8"/><text x="452" y="557.5">LCTP</text></g>
<g id="g-LCTR"><circle class="w" cx="498" cy="553" r="8.8"/><text x="498" y="555.5">LCTR</text></g>
<g id="g-PYKA"><circle class="w" cx="301" cy="560" r="8.8"/><text x="301" y="562.5">PYKA</text></g>
<g id="g-PYKF"><circle class="w" cx="293" cy="582" r="8.8"/><text x="293" y="584.5">PYKF</text></g>
<g id="g-ACKB"><circle class="w" cx="602" cy="570" r="8.8"/><text x="602" y="572.5">ACKB</text></g>
<g id="g-ACKA"><circle class="w" cx="632" cy="583" r="8.8"/><text x="632" y="585.5">ACKA</text></g>
<g id="g-LLDD"><circle class="w" cx="430" cy="578" r="8.8"/><text x="430" y="580.5">LLDD</text></g>
<g id="g-ACS"><circle class="w" cx="517" cy="598" r="8.8"/><text x="517" y="600.5">ACS</text></g>
<g id="g-ACEE"><circle class="w" cx="297" cy="637" r="8.8"/><text x="297" y="639.5">ACEE</text></g>
<g id="g-ACEF"><circle class="w" cx="398" cy="654" r="8.8"/><text x="398" y="656.5">ACEF</text></g>
<g id="g-EDA"><circle class="w" cx="424" cy="663" r="8.8"/><text x="424" y="665.5">EDA</text></g>
<g id="g-ARCA"><circle class="w" cx="255" cy="660" r="8.8"/><text x="255" y="662.5">ARCA</text></g>
<g id="g-GLCF"><circle class="w" cx="145" cy="642" r="8.8"/><text x="145" y="644.5">GLCF</text></g>
<g id="g-GLCD"><circle class="w" cx="118" cy="657" r="8.8"/><text x="118" y="659.5">GLCD</text></g>
<g id="g-GLCE"><circle class="w" cx="179" cy="654" r="8.8"/><text x="179" y="656.5">GLCE</text></g>
<g id="g-GLCG"><circle class="w" cx="102" cy="681" r="8.8"/><text x="102" y="683.5">GLCG</text></g>
<g id="g-GLCA"><circle class="w" cx="122" cy="713" r="8.8"/><text x="122" y="715.5">GLCA</text></g>
<g id="g-PCK"><circle class="w" cx="417" cy="686" r="8.8"/><text x="417" y="688.5">PCK</text></g>
<g id="g-PTA"><circle class="w" cx="508" cy="689" r="8.8"/><text x="508" y="691.5">PTA</text></g>
<g id="g-MAEB"><circle class="w" cx="178" cy="752" r="8.8"/><text x="178" y="754.5">MAEB</text></g>
<g id="g-GLTA"><circle class="w" cx="413" cy="755" r="8.8"/><text x="413" y="757.5">GLTA</text></g>
<g id="g-PRPC"><circle class="w" cx="433" cy="768" r="8.8"/><text x="433" y="770.5">PRPC</text></g>
<g id="g-GLCB"><circle class="w" cx="220" cy="766" r="8.8"/><text x="220" y="768.5">GLCB</text></g>
<g id="g-ACEB"><circle class="w" cx="285" cy="807" r="8.8"/><text x="285" y="809.5">ACEB</text></g>
<g id="g-PPC"><circle class="w" cx="323" cy="833" r="8.8"/><text x="323" y="835.5">PPC</text></g>
<g id="g-LPD"><circle class="w" cx="306" cy="869" r="8.8"/><text x="306" y="871.5">LPD</text></g>
<g id="g-FUMC"><circle class="w" cx="137" cy="880" r="8.8"/><text x="137" y="882.5">FUMC</text></g>
<g id="g-ACNB"><circle class="w" cx="456" cy="887" r="8.8"/><text x="456" y="889.5">ACNB</text></g>
<g id="g-ACNA"><circle class="w" cx="569" cy="888" r="8.8"/><text x="569" y="890.5">ACNA</text></g>
<g id="g-FUMB"><circle class="w" cx="114" cy="895" r="8.8"/><text x="114" y="897.5">FUMB</text></g>
<g id="g-FUMA"><circle class="w" cx="94" cy="918" r="8.8"/><text x="94" y="920.5">FUMA</text></g>
<g id="g-MDH"><circle class="w" cx="211" cy="924" r="8.8"/><text x="211" y="926.5">MDH</text></g>
<g id="g-SDHD"><circle class="w" cx="186" cy="943" r="8.8"/><text x="186" y="945.5">SDHD</text></g>
<g id="g-ACEA"><circle class="w" cx="353" cy="950" r="8.8"/><text x="353" y="952.5">ACEA</text></g>
<g id="g-B0725"><circle class="w" cx="255" cy="952" r="8.8"/><text x="255" y="954.5">B0725</text></g>
<g id="g-ACEK"><circle class="w" cx="407" cy="962" r="8.8"/><text x="407" y="964.5">ACEK</text></g>
<g id="g-SDHA"><circle class="w" cx="197" cy="972" r="8.8"/><text x="197" y="974.5">SDHA</text></g>
<g id="g-ICD"><circle class="w" cx="454" cy="993" r="8.8"/><text x="454" y="995.5">ICD</text></g>
<g id="g-SDHB"><circle class="w" cx="210" cy="997" r="8.8"/><text x="210" y="999.5">SDHB</text></g>
<g id="g-SDHC"><circle class="w" cx="217" cy="1018" r="8.8"/><text x="217" y="1020.5">SDHC</text></g>
<g id="g-SUCC"><circle class="w" cx="245" cy="1046" r="8.8"/><text x="245" y="1048.5">SUCC</text></g>
<g id="g-SUCA"><circle class="w" cx="367" cy="1052" r="8.8"/><text x="367" y="1054.5">SUCA</text></g>
<g id="g-SUCB"><circle class="w" cx="301" cy="1058" r="8.8"/><text x="301" y="1060.5">SUCB</text></g>
<g id="g-SUCD"><circle class="w" cx="263" cy="1067" r="8.8"/><text x="263" y="1069.5">SUCD</text></g>

<g id="d-GLPABC"><use href="#D" class="w" x="202" y="218"/><text x="202" y="220.5">GLPABC</text></g>
<g id="d-GLPDSP"><use href="#D" class="w" x="268" y="260"/><text x="268" y="262.5">GLPDSP</text></g>
<g id="d-NUO"><use href="#D" class="w" x="119" y="506"/><text x="119" y="508.5">NUO</text></g>
<g id="d-LCTPRD"><use href="#D" class="w" x="483" y="604"/><text x="483" y="606.5">LCTPRD</text></g>
<g id="d-GLCDEFGBA"><use href="#D" class="w" x="172" y="697"/><text x="173" y="699.5">GLCDEFGBA</text></g>
<g id="d-GLTASP"><use href="#D" class="w" x="428" y="731"/><text x="429" y="733.5">GLTASP</text></g>
<g id="d-FUMCDP"><use href="#D" class="w" x="134" y="831"/><text x="134" y="833.5">FUMCDP</text></g>
<g id="d-FUMADP"><use href="#D" class="w" x="88" y="844"/><text x="88" y="846.5">FUMADP</text></g>
<g id="d-LPDA"><use href="#D" class="w" x="288" y="842"/><text x="288" y="844.5">LPDA</text></g>
<g id="d-ACNBDP"><use href="#D" class="w" x="445" y="855"/><text x="445" y="857.5">ACNBDP</text></g>
<g id="d-ACNADP"><use href="#D" class="w" x="590" y="863"/><text x="590" y="865.5">ACNADP</text></g>
<g id="d-MDHDP"><use href="#D" class="w" x="214" y="873"/><text x="214" y="875.5">MDHDP</text></g>
<g id="d-ACEBAK"><use href="#D" class="w" x="393" y="922"/><text x="393" y="924.5">ACEBAK</text></g>
<g id="d-ICDA"><use href="#D" class="w" x="481" y="959"/><text x="481" y="961.5">ICDA</text></g>
<g id="d-SDHCDAB-B0725-SUCABCD"><use href="#D" class="w" x="300" y="998"/><text x="302" y="1000.5">SDHCDAB-B0725-SUCABCD</text></g>
</g>
</svg>
